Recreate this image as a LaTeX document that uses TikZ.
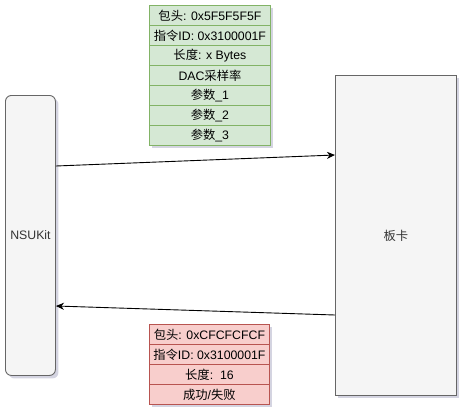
\documentclass[tikz,border=0pt]{standalone}
\usepackage{fontspec}
\setmainfont{Liberation Sans}
\newfontfamily\cjk{Noto Sans CJK SC}
\usetikzlibrary{arrows.meta,shadows}
\definecolor{gfill}{HTML}{D5E8D4}
\definecolor{gline}{HTML}{82B366}
\definecolor{rfill}{HTML}{F8CECC}
\definecolor{rline}{HTML}{B85450}
\definecolor{kfill}{HTML}{F5F5F5}
\definecolor{kline}{HTML}{666666}
\definecolor{ktext}{HTML}{333333}
\definecolor{shadowc}{HTML}{C9C9DA}
\tikzset{
  shad/.style={drop shadow={shadow xshift=3pt,shadow yshift=-3pt,fill=shadowc,opacity=0.8}},
  txt/.style={font=\fontsize{12.3}{14}\selectfont},
  greenrow/.style={draw=gline,fill=gfill,line width=0.9pt,minimum width=121pt,minimum height=20pt,inner sep=0pt,anchor=north west,txt},
  redrow/.style={draw=rline,fill=rfill,line width=0.9pt,minimum width=120pt,minimum height=20pt,inner sep=0pt,anchor=north west,txt},
  bigbox/.style={draw=kline,fill=kfill,line width=0.9pt,inner sep=0pt,anchor=north west,text=ktext,txt,shad},
  conn/.style={line width=0.9pt,-{Stealth[length=8pt,width=7pt,inset=2.5pt]}}
}
\begin{document}
\begin{tikzpicture}[x=1pt,y=-1pt]
\useasboundingbox (0,0) rectangle (467,416);
% NSUKit
\node[bigbox,rounded corners=6pt,minimum width=50pt,minimum height=280pt] (nsu) at (5,95) {NSUKit};
% Board
\node[bigbox,minimum width=121pt,minimum height=320pt] (board) at (335,75) {{\cjk 板卡}};
% green table shadow
\fill[shadowc,opacity=0.8] (152,8) rectangle (273,148);
\node[greenrow] (g1) at (149,5) {{\cjk 包头}: 0x5F5F5F5F};
\node[greenrow] (g2) at (149,25) {{\cjk 指令}ID: 0x3100001F};
\node[greenrow] (g3) at (149,45) {{\cjk 长度}: x Bytes};
\node[greenrow] (g4) at (149,65) {DAC{\cjk 采样率}};
\node[greenrow] (g5) at (149,85) {{\cjk 参数}\_1};
\node[greenrow] (g6) at (149,105) {{\cjk 参数}\_2};
\node[greenrow] (g7) at (149,125) {{\cjk 参数}\_3};
% red table shadow
\fill[shadowc,opacity=0.8] (152,327) rectangle (272,407);
\node[redrow] (r1) at (149,324) {{\cjk 包头}: 0xCFCFCFCF};
\node[redrow] (r2) at (149,344) {{\cjk 指令}ID: 0x3100001F};
\node[redrow] (r3) at (149,364) {{\cjk 长度}:\ \ 16};
\node[redrow] (r4) at (149,384) {{\cjk 成功}/{\cjk 失败}};
% connectors
\coordinate (a1) at (nsu.east |- 0,166);
\coordinate (b1) at (board.west |- 0,155);
\coordinate (b2) at (board.west |- 0,315);
\coordinate (a2) at (nsu.east |- 0,306);
\draw[conn] (a1) -- (b1);
\draw[conn] (b2) -- (a2);
\end{tikzpicture}
\end{document}
